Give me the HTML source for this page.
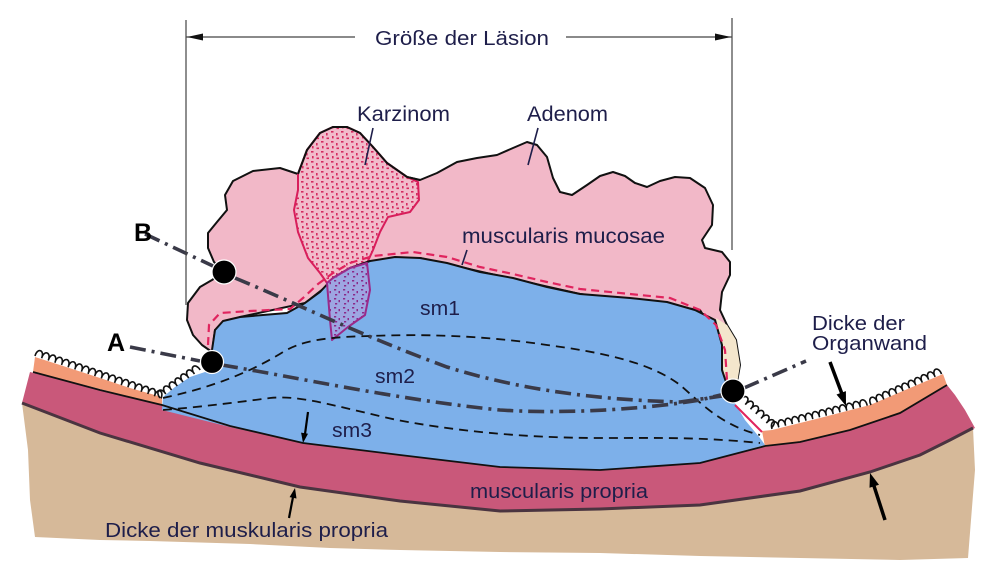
<!DOCTYPE html>
<html><head><meta charset="utf-8"><style>
html,body{margin:0;padding:0;background:#fff;}
svg{display:block;}
text{font-family:"Liberation Sans",sans-serif;fill:#1e1e4a;}
</style></head><body>
<svg width="1000" height="571" viewBox="0 0 1000 571" xmlns="http://www.w3.org/2000/svg">
<defs>
<pattern id="pr" width="10" height="10" patternUnits="userSpaceOnUse">
<rect width="10" height="10" fill="#f2bccb"/>
<rect x="1" y="1" width="2.5" height="1.6" fill="#d42a60"/>
<rect x="6" y="3" width="1.6" height="2.5" fill="#d42a60"/>
<rect x="2" y="6" width="1.6" height="2.4" fill="#d42a60"/>
<rect x="6.5" y="7.5" width="2.5" height="1.6" fill="#d42a60"/>
</pattern>
<pattern id="pp" width="9" height="9" patternUnits="userSpaceOnUse">
<rect width="9" height="9" fill="#9ea6e2"/>
<rect x="1" y="1" width="2.2" height="1.5" fill="#8a2a8a"/>
<rect x="5.5" y="3" width="1.5" height="2.2" fill="#8a2a8a"/>
<rect x="2" y="6" width="2.2" height="1.5" fill="#8a2a8a"/>
</pattern>
</defs>

<!-- tan tissue -->
<polygon fill="#d6b999" points="22,403 100,433 200,463 300,487 400,501 500,511 600,509 700,505 800,491 870,472 920,455 950,440 973,428 975,470 971,520 968,558 900,560 800,558 700,556 600,553 500,552 400,550 330,548 250,544 150,541 100,540 35,537 30,500 28,450"/>
<!-- muscularis propria band -->
<polygon fill="#c9587a" points="30,372 100,390 162,405 230,425 303,443 400,455 500,467 600,470 700,463 765,446 800,442 850,430 900,413 947,385 955,395 965,410 975,428 950,440 920,455 870,472 800,491 700,505 600,509 500,511 400,501 300,487 200,463 100,433 22,403"/>
<!-- orange layers -->
<polygon fill="#f29a76" points="35,357 60,365 100,378 130,388 162,397 162,405 100,389 33,372"/>
<polygon fill="#f29a76" points="762,431 772,430 820,418 870,405 943,374 947,385 900,413 850,430 800,442 765,447"/>
<!-- adenoma -->
<polygon fill="#f2b8c8" stroke="#111" stroke-width="2" stroke-linejoin="round" points="212,352 202,345 193,335 187,320 188,303 200,287 212,280 224,272 214,262 208,248 208,233 217,222 227,210 225,195 233,181 253,171 280,168 298,174 307,150 320,133 333,127 347,127 360,133 373,147 387,163 407,177 420,180 437,173 457,162 477,158 497,155 513,148 527,142 537,145 547,157 553,178 560,192 572,195 587,185 600,176 613,172 625,176 635,183 647,187 660,181 675,177 690,178 705,188 713,205 712,225 702,240 705,248 722,252 730,262 730,275 722,292 720,310 727,325 736,340 740,365 737,382 730,392 722,385 722,345 700,310 580,294 420,258 350,268 305,303 240,317 215,330"/>
<polygon fill="#f4e6cc" points="716,318 727,325 736,340 740,365 737,384 724,380 722,345"/>
<!-- carcinoma upper -->
<polygon fill="url(#pr)" stroke="#d81e5b" stroke-width="2" stroke-linejoin="round" points="298,174 307,150 320,133 333,127 347,127 360,133 373,147 387,163 407,177 418,182 419,200 410,212 388,217 380,232 373,250 367,263 350,268 333,278 327,283 320,273 308,258 298,232 294,210 298,190"/>
<path d="M298,174 L307,150 L320,133 L333,127 L347,127 L360,133 L373,147 L387,163 L407,177 L420,180" fill="none" stroke="#111" stroke-width="2"/>
<!-- blue submucosa -->
<polygon fill="#7db0ea" points="162,410 230,427 303,443 400,455 500,467 600,470 700,463 765,445 760,438 745,420 733,400 728,390 722,370 722,345 715,320 695,310 667,302 630,298 580,294 547,287 513,278 480,272 447,263 420,258 395,257 370,261 350,268 333,278 320,292 305,303 287,313 240,317 223,321 215,330 212,345 212,362 205,372 190,377 175,387 163,397"/>
<polyline fill="none" stroke="#111" stroke-width="2" stroke-linejoin="round" points="212,350 215,330 223,321 240,317 287,313 305,303 320,292 333,278 350,268 370,261 395,257 420,258 447,263 480,272 513,278 547,287 580,294 630,298 667,302 695,310 715,320 722,345 722,370 728,388"/>
<!-- carcinoma lower -->
<polygon fill="url(#pp)" stroke="#9a2a8a" stroke-width="2" stroke-linejoin="round" points="327,283 333,278 350,268 367,263 370,290 365,315 348,327 332,340 330,320"/>
<!-- muscularis mucosae red dashed -->
<polyline fill="none" stroke="#e0245e" stroke-width="2.2" stroke-dasharray="8 5" points="208,345 209,325 220,313 250,311 290,309 303,298 318,284 333,273 350,263 373,256 413,252 447,257 480,267 513,274 547,282 580,289 630,294 670,298 700,310 716,325 725,350 727,380"/>
<path d="M735,405 L762,432" stroke="#e0245e" stroke-width="2" fill="none"/>
<!-- sm dashed lines -->
<path d="M163,398 C200,390 243,377 283,352 C300,342 320,337 370,336 C420,334 480,335 547,345 C600,352 650,362 680,385 C700,402 720,425 760,435" fill="none" stroke="#111" stroke-width="1.8" stroke-dasharray="9 6"/>
<path d="M163,410 C200,407 240,402 270,398 C300,395 330,405 397,420 C450,430 520,438 600,438 C660,438 700,437 760,443" fill="none" stroke="#111" stroke-width="1.8" stroke-dasharray="9 6"/>
<!-- band top & tan top lines -->
<polyline fill="none" stroke="#111" stroke-width="1.8" points="33,372 100,390 162,405 230,426 303,443 400,455 500,467 600,470 700,463 765,446 800,442 850,430 900,413 947,385"/>
<polyline fill="none" stroke="#4a3440" stroke-width="3" points="22,403 100,433 200,463 300,487 400,501 500,511 600,509 700,505 800,491 870,472 920,455 950,440 973,428"/>
<!-- dash-dot lines -->
<g fill="none" stroke="#3a3a48" stroke-width="3.6" stroke-dasharray="16 6 3 6">
<path d="M130,347 L200,361"/>
<path d="M222,365 C300,378 400,400 500,410 C560,414 640,410 700,400 L725,394"/>
<path d="M145,234 L213,266"/>
<path d="M235,278 C300,305 360,335 447,367 C520,390 600,400 680,402 L722,396"/>
<path d="M744,388 L806,361"/>
</g>
<!-- waves -->
<g fill="none" stroke="#111" stroke-width="1.6">
<path transform="translate(35,356) rotate(18.6)" d="M0,0 c-0.5,-9 7.5,-9 7,0 c-0.5,-9 7.5,-9 7,0 c-0.5,-9 7.5,-9 7,0 c-0.5,-9 7.5,-9 7,0 c-0.5,-9 7.5,-9 7,0 c-0.5,-9 7.5,-9 7,0 c-0.5,-9 7.5,-9 7,0 c-0.5,-9 7.5,-9 7,0 c-0.5,-9 7.5,-9 7,0 c-0.5,-9 7.5,-9 7,0 c-0.5,-9 7.5,-9 7,0 c-0.5,-9 7.5,-9 7,0 c-0.5,-9 7.5,-9 7,0 c-0.5,-9 7.5,-9 7,0 c-0.5,-9 7.5,-9 7,0 c-0.5,-9 7.5,-9 7,0 c-0.5,-9 7.5,-9 7,0 c-0.5,-9 7.5,-9 7,0 c-0.5,-9 7.5,-9 7,0"/>
<path transform="translate(160,398) rotate(-34.9)" d="M0,0 c-0.5,-9 7.5,-9 7,0 c-0.5,-9 7.5,-9 7,0 c-0.5,-9 7.5,-9 7,0 c-0.5,-9 7.5,-9 7,0 c-0.5,-9 7.5,-9 7,0 c-0.5,-9 7.5,-9 7,0 c-0.5,-9 7.5,-9 7,0"/>
<path transform="translate(740,400) rotate(41.2)" d="M0,0 c-0.5,-9 7.5,-9 7,0 c-0.5,-9 7.5,-9 7,0 c-0.5,-9 7.5,-9 7,0 c-0.5,-9 7.5,-9 7,0 c-0.5,-9 7.5,-9 7,0 c-0.5,-9 7.5,-9 7,0"/>
<path transform="translate(772,429) rotate(-13.8)" d="M0,0 c-0.5,-9 7.5,-9 7,0 c-0.5,-9 7.5,-9 7,0 c-0.5,-9 7.5,-9 7,0 c-0.5,-9 7.5,-9 7,0 c-0.5,-9 7.5,-9 7,0 c-0.5,-9 7.5,-9 7,0 c-0.5,-9 7.5,-9 7,0 c-0.5,-9 7.5,-9 7,0 c-0.5,-9 7.5,-9 7,0 c-0.5,-9 7.5,-9 7,0 c-0.5,-9 7.5,-9 7,0 c-0.5,-9 7.5,-9 7,0 c-0.5,-9 7.5,-9 7,0 c-0.5,-9 7.5,-9 7,0"/>
<path transform="translate(871,405) rotate(-23.7)" d="M0,0 c-0.5,-9 7.5,-9 7,0 c-0.5,-9 7.5,-9 7,0 c-0.5,-9 7.5,-9 7,0 c-0.5,-9 7.5,-9 7,0 c-0.5,-9 7.5,-9 7,0 c-0.5,-9 7.5,-9 7,0 c-0.5,-9 7.5,-9 7,0 c-0.5,-9 7.5,-9 7,0 c-0.5,-9 7.5,-9 7,0 c-0.5,-9 7.5,-9 7,0 c-0.5,-9 7.5,-9 7,0"/>
</g>
<!-- balls -->
<circle cx="212" cy="362" r="11.5" fill="#000" stroke="#fff" stroke-width="1.2"/>
<circle cx="224" cy="272" r="12" fill="#000" stroke="#fff" stroke-width="1.2"/>
<circle cx="733" cy="391" r="12" fill="#000" stroke="#fff" stroke-width="1.2"/>
<!-- dimension -->
<g stroke="#444" stroke-width="1.2">
<line x1="186" y1="20" x2="186" y2="305"/>
<line x1="732" y1="18" x2="732" y2="250"/>
<line x1="186" y1="37" x2="355" y2="37"/>
<line x1="566" y1="37" x2="732" y2="37"/>
</g>
<polygon points="187,37 203,33.5 203,40.5" fill="#111"/>
<polygon points="731,37 715,33.5 715,40.5" fill="#111"/>
<!-- leader lines -->
<g stroke="#1e1e4a" stroke-width="1.6">
<line x1="373" y1="128" x2="365" y2="165"/>
<line x1="538" y1="128" x2="528" y2="165"/>
<line x1="467" y1="250" x2="462" y2="265"/>
</g>
<!-- arrows -->
<g stroke="#000" stroke-width="3.5">
<line x1="830" y1="362" x2="842" y2="394"/>
<line x1="885" y1="520" x2="874" y2="486"/>
</g>
<g stroke="#000" stroke-width="2.2">
<line x1="308" y1="412" x2="305" y2="434"/>
<line x1="289" y1="518" x2="293" y2="497"/>
</g>
<polygon points="846,406 845.9,391.1 836.5,394.5" fill="#000"/>
<polygon points="870,473 879,484.8 869.5,487.8" fill="#000"/>
<polygon points="303,443 308,433.7 301.1,432.6" fill="#000"/>
<polygon points="295,488 296.5,498.5 289.6,497.1" fill="#000"/>
<!-- text -->
<text x="375" y="45" font-size="20" textLength="174" lengthAdjust="spacingAndGlyphs">Größe der Läsion</text>
<text x="357" y="121" font-size="21" textLength="93" lengthAdjust="spacingAndGlyphs">Karzinom</text>
<text x="527" y="121" font-size="21" textLength="81" lengthAdjust="spacingAndGlyphs">Adenom</text>
<text x="462" y="243" font-size="21" textLength="203" lengthAdjust="spacingAndGlyphs">muscularis mucosae</text>
<text x="420" y="315" font-size="20" textLength="40" lengthAdjust="spacingAndGlyphs">sm1</text>
<text x="375" y="383" font-size="20" textLength="40" lengthAdjust="spacingAndGlyphs">sm2</text>
<text x="332" y="437" font-size="20" textLength="40" lengthAdjust="spacingAndGlyphs">sm3</text>
<text x="470" y="498" font-size="20" textLength="178" lengthAdjust="spacingAndGlyphs">muscularis propria</text>
<text x="105" y="537" font-size="20" textLength="283" lengthAdjust="spacingAndGlyphs">Dicke der muskularis propria</text>
<text x="812" y="330" font-size="20" textLength="93" lengthAdjust="spacingAndGlyphs">Dicke der</text>
<text x="812" y="350" font-size="20" textLength="115" lengthAdjust="spacingAndGlyphs">Organwand</text>
<text x="107" y="351" font-size="25" font-weight="bold" style="fill:#000">A</text>
<text x="134" y="241" font-size="25" font-weight="bold" style="fill:#000">B</text>
</svg>
</body></html>
